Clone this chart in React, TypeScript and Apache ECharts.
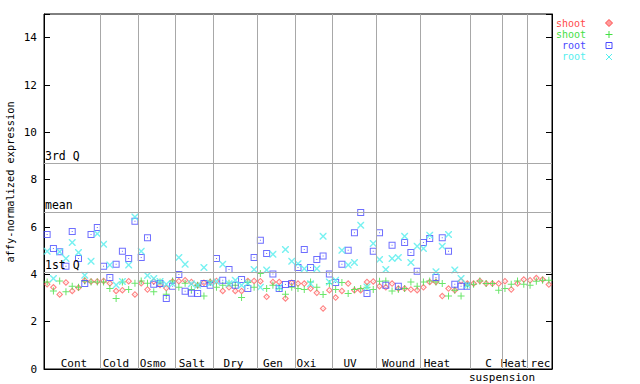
import React, { useEffect, useRef } from "react";
import * as echarts from "echarts";

// ---- data ----
const groupNames = ["Cont", "Cold", "Osmo", "Salt", "Dry", "Gen", "Oxi", "UV", "Wound", "Heat", "C", "Heat", "rec"];
const groupSizes = [9, 6, 6, 6, 7, 6, 6, 7, 7, 8, 5, 4, 4];
const subLabel = "suspension";

const shootRed = [
  3.58, 3.45, 3.15, 3.66, 3.30, 3.43, 3.74, 3.70, 3.70,
  3.72, 3.62, 3.30, 3.33, 3.71, 3.15,
  3.62, 3.36, 3.70, 3.55, 3.42, 3.70,
  3.71, 3.75, 3.68, 3.54, 3.64, 3.68,
  3.72, 3.30, 3.45, 3.30, 3.30, 3.72, 3.72,
  3.71, 3.05, 3.68, 3.68, 2.98, 3.64,
  3.61, 3.61, 3.40, 3.22, 2.56, 3.33,
  3.02, 3.30, 3.61, 3.33, 3.33, 3.68, 3.70,
  3.50, 3.45, 3.61, 3.40, 3.40, 3.36, 3.33,
  3.45, 3.68, 3.68, 3.08, 3.40, 3.33, 3.72, 3.61,
  3.61, 3.72, 3.61, 3.61, 3.61,
  3.71, 3.36, 3.61, 3.78,
  3.75, 3.84, 3.78, 3.57,
];
const shootGreen = [
  3.68, 3.30, 3.72, 3.26, 3.50, 3.45, 3.72, 3.68, 3.68,
  3.68, 3.40, 2.98, 3.68, 3.36, 3.62,
  3.72, 3.62, 3.26, 3.68, 3.16, 3.72,
  3.45, 3.62, 3.36, 3.54, 3.08, 3.68,
  3.45, 3.54, 3.62, 3.54, 3.02, 3.66, 3.45,
  4.04, 3.40, 3.54, 3.40, 3.16, 3.45,
  3.40, 3.36, 3.68, 3.45, 3.15, 3.61,
  3.36, 3.66, 3.19, 3.36, 3.40, 3.45, 3.36,
  3.71, 3.72, 3.30, 3.36, 3.40, 3.68, 3.50,
  3.68, 3.72, 3.68, 3.61, 3.08, 3.33, 3.08, 3.54,
  3.58, 3.72, 3.61, 3.61, 3.33,
  3.40, 3.58, 3.72, 3.58,
  3.54, 3.71, 3.75, 3.75,
];
const rootBlue = [
  5.68, 5.09, 4.95, 4.34, 5.81, 4.67, 3.61, 5.68, 5.98,
  4.34, 3.87, 4.43, 4.98, 4.67, 6.24,
  4.71, 5.55, 3.58, 3.61, 2.98, 3.50,
  3.99, 3.28, 3.20, 3.19, 3.61, 3.54,
  4.67, 3.75, 4.20, 3.54, 3.78, 3.40, 4.71,
  5.44, 4.88, 4.01, 3.40, 3.57, 3.61,
  4.29, 5.05, 4.29, 4.63, 4.77, 4.01,
  3.66, 4.43, 5.02, 5.76, 6.61, 3.19, 4.98,
  5.76, 3.54, 5.23, 3.50, 5.34, 4.92, 4.13,
  5.34, 5.51, 3.87, 5.55, 4.98, 3.58, 3.50, 3.50,
  null, null, null, null, null,
  null, null, null, null,
  null, null, null, null,
];
const rootCyan = [
  4.98, 3.82, 4.95, 4.67, 5.34, 4.92, 3.96, 4.55, 5.72,
  5.27, 4.39, 3.55, 3.70, 4.39, 6.42,
  4.98, 3.95, 3.82, 3.70, 3.58, 3.60,
  4.71, 4.43, 3.60, 3.54, 4.29, 3.62,
  3.70, 4.43, 3.60, 3.75, 3.54, 3.62, 4.20,
  3.45, 4.18, 4.85, 3.45, 5.05, 4.55,
  4.45, 4.24, 3.60, 4.24, 5.61, 3.68,
  3.75, 5.02, 4.39, 4.50, 6.07, 3.47, 5.30,
  4.63, 4.20, 4.67, 4.71, 5.61, 4.50, 5.19,
  5.09, 5.65, 4.11, 5.19, 5.68, 4.18, 3.82, 3.55,
  null, null, null, null, null,
  null, null, null, null,
  null, null, null, null,
];
const quantileNames = ["3rd Q", "mean", "1st Q"];
const quantileValues = [8.69, 6.62, 4.09];
const seriesNames = ["shoot", "shoot", "root", "root"];

// ---- styles / layout ----
const RED = "#ff4a4a";
const GREEN = "#44e044";
const BLUE = "#4a4aff";
const CYAN = "#55eeee";
const GREY = "#a8a8a8";
const MONO = "DejaVu Sans Mono";
const labelCentersPx = [74, 116, 153, 192, 233.5, 273, 306.5, 350, 398.5, 437, 488.5, 514, 540.5];

const SYM_SQUARE = "path://M0,0H7V7H0Z M1,1V6H6V1Z M3,3H4V4H3Z";
const SYM_PLUS = "path://M3,0H4V3H7V4H4V7H3V4H0V3H3Z";
const SYM_X = "path://M0,0L1,0L3.5,2.5L6,0L7,0L7,1L4.5,3.5L7,6L7,7L6,7L3.5,4.5L1,7L0,7L0,6L2.5,3.5L0,1Z";
const SYM_DIAMOND = "path://M3.5,0L7,3.5L3.5,7L0,3.5Z M3.5,1.6L1.6,3.5L3.5,5.4L5.4,3.5Z M3.5,3L4,3.5L3.5,4L3,3.5Z";

export default function App() {
  const ref = useRef<HTMLDivElement>(null);
  useEffect(() => {
    const chart = echarts.init(ref.current!, null, { renderer: "svg" });
    const total = groupSizes.reduce((a, b) => a + b, 0);
    const bounds: number[] = [];
    let acc = 0;
    groupSizes.forEach((s, k) => {
      acc += s;
      if (k < groupSizes.length - 1) bounds.push(acc);
    });
    const toPts = (arr: (number | null)[]) =>
      arr.map((v, i) => (v == null ? null : [i + 0.5, v])).filter((p) => p !== null);

    const mk = (name: string, data: (number | null)[], symbol: string, color: string) => ({
      type: "scatter",
      name,
      data: toPts(data),
      symbol,
      symbolSize: 7,
      itemStyle: { color },
    });

    const legendRows = [
      { text: seriesNames[0], color: RED, y: 23 },
      { text: seriesNames[1], color: GREEN, y: 34.3 },
      { text: seriesNames[2], color: BLUE, y: 45.6 },
      { text: seriesNames[3], color: CYAN, y: 56.9 },
    ];
    const mx = 609;
    const graphics: any[] = [];
    legendRows.forEach((r) => {
      graphics.push({
        type: "text",
        x: 586,
        y: r.y,
        style: { text: r.text, fill: r.color, font: `10px ${MONO}`, textAlign: "right", textVerticalAlign: "middle" },
      });
    });
    // legend markers
    graphics.push({
      type: "polygon",
      shape: { points: [[mx, 19.5], [mx + 3.5, 23], [mx, 26.5], [mx - 3.5, 23]] },
      style: { fill: "rgba(255,74,74,0.55)", stroke: RED, lineWidth: 1 },
    });
    graphics.push({ type: "rect", shape: { x: mx - 3.5, y: 34, width: 7, height: 1 }, style: { fill: GREEN } });
    graphics.push({ type: "rect", shape: { x: mx - 0.5, y: 31, width: 1, height: 7 }, style: { fill: GREEN } });
    graphics.push({ type: "rect", shape: { x: mx - 3, y: 42.5, width: 6, height: 6 }, style: { fill: "none", stroke: BLUE, lineWidth: 1 } });
    graphics.push({ type: "rect", shape: { x: mx - 0.5, y: 45, width: 1, height: 1 }, style: { fill: BLUE } });
    graphics.push({ type: "line", shape: { x1: mx - 3, y1: 54, x2: mx + 3, y2: 60 }, style: { stroke: CYAN, lineWidth: 1 } });
    graphics.push({ type: "line", shape: { x1: mx + 3, y1: 54, x2: mx - 3, y2: 60 }, style: { stroke: CYAN, lineWidth: 1 } });
    // y axis title
    graphics.push({
      type: "text",
      x: 10,
      y: 182,
      rotation: Math.PI / 2,
      style: {
        text: "affy-normalized expression",
        fill: "#000",
        font: `10.3px ${MONO}`,
        textAlign: "center",
        textVerticalAlign: "middle",
      },
    });
    // group labels
    groupNames.forEach((g, k) => {
      graphics.push({
        type: "text",
        x: labelCentersPx[k],
        y: 363,
        style: { text: g, fill: "#000", font: `11px ${MONO}`, textAlign: "center", textVerticalAlign: "middle" },
      });
    });
    graphics.push({
      type: "text",
      x: 502,
      y: 377,
      style: { text: subLabel, fill: "#000", font: `11px ${MONO}`, textAlign: "center", textVerticalAlign: "middle" },
    });

    const option: any = {
      animation: false,
      backgroundColor: "#fff",
      grid: { left: 44, right: 88, top: 14, bottom: 15, show: true, borderColor: "#000", borderWidth: 1 },
      xAxis: {
        type: "value",
        min: 0,
        max: total,
        axisLine: { show: true, lineStyle: { color: "#000" } },
        axisTick: { show: false },
        axisLabel: { show: false },
        splitLine: { show: false },
      },
      yAxis: [
        {
          type: "value",
          min: 0,
          max: 15,
          interval: 2,
          axisLine: { show: true, lineStyle: { color: "#000" } },
          axisTick: { show: true, inside: true, length: 6, lineStyle: { color: "#000" } },
          axisLabel: {
            color: "#000",
            fontFamily: MONO,
            fontSize: 11,
            margin: 7,
            formatter: (v: number) => (v % 2 === 0 ? String(v) : ""),
          },
          splitLine: { show: false },
        },
        {
          type: "value",
          min: 0,
          max: 15,
          interval: 2,
          position: "right",
          axisLine: { show: true, lineStyle: { color: "#000" } },
          axisTick: { show: true, inside: true, length: 6, lineStyle: { color: "#000" } },
          axisLabel: { show: false },
          splitLine: { show: false },
        },
      ],
      series: [
        {
          type: "line",
          data: [],
          silent: true,
          markLine: {
            silent: true,
            symbol: "none",
            lineStyle: { color: GREY, type: "solid", width: 1 },
            data: [
              ...bounds.map((b) => ({ xAxis: b, label: { show: false } })),
              ...quantileValues.map((v, k) => ({
                yAxis: v,
                label: {
                  show: true,
                  position: "insideStartTop",
                  formatter: quantileNames[k],
                  color: "#000",
                  fontFamily: MONO,
                  fontSize: 11.5,
                  distance: [1, 1],
                },
              })),
            ],
          },
        },
        mk(seriesNames[0], shootRed, SYM_DIAMOND, "rgba(255,74,74,0.85)"),
        mk(seriesNames[1], shootGreen, SYM_PLUS, GREEN),
        mk(seriesNames[2], rootBlue, SYM_SQUARE, BLUE),
        mk(seriesNames[3], rootCyan, SYM_X, CYAN),
      ],
      graphic: graphics,
    };
    chart.setOption(option);
    return () => chart.dispose();
  }, []);
  return <div ref={ref} style={{ position: "fixed", left: 0, top: 0, width: 640, height: 384 }} />;
}
